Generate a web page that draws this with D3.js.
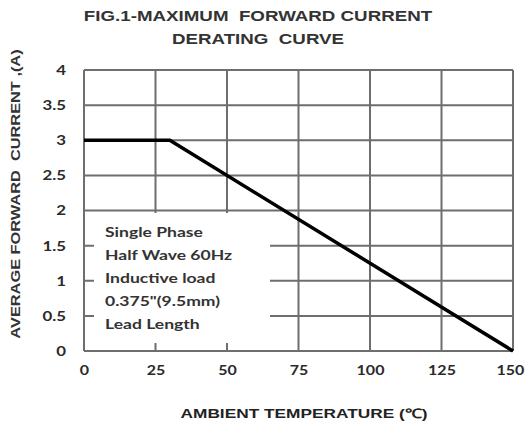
<!DOCTYPE html>
<html><head><meta charset="utf-8">
<script src="https://cdn.jsdelivr.net/npm/d3@7/dist/d3.min.js"></script>
<style>body{margin:0;background:#fff} text{white-space:pre}</style>
</head><body><svg id="c" width="526" height="426"></svg>
<script>
const xTicks = [0, 25, 50, 75, 100, 125, 150];
const yTicks = [0, 0.5, 1, 1.5, 2, 2.5, 3, 3.5, 4];
const yTickLabels = ["0", "0.5", "1", "1.5", "2", "2.5", "3", "3.5", "4"];
const temperature = [0, 30, 150];
const current = [3, 3, 0];
const titleLines = ["FIG.1-MAXIMUM  FORWARD CURRENT", "DERATING  CURVE"];
const xTitle = "AMBIENT TEMPERATURE (\u2103)";
const yTitle = "AVERAGE FORWARD  CURRENT ,(A)";
const noteLines = ["Single Phase", "Half Wave 60Hz", "Inductive load", "0.375\"(9.5mm)", "Lead Length"];

const svg = d3.select("#c");
const x = d3.scaleLinear().domain([0, 150]).range([84, 513]);
const y = d3.scaleLinear().domain([0, 4]).range([351, 70]);
const grid = "#6e6e6e";
const arial = "'Liberation Sans', Arial, sans-serif";
const cal = "Lato, 'Open Sans', sans-serif";

// grid
svg.append("g").selectAll("line").data(xTicks).join("line")
  .attr("x1", d => x(d)).attr("x2", d => x(d)).attr("y1", y(4)).attr("y2", y(0))
  .attr("stroke", grid).attr("stroke-width", 2);
svg.append("g").selectAll("line").data(yTicks).join("line")
  .attr("x1", x(0)).attr("x2", x(150)).attr("y1", d => y(d)).attr("y2", d => y(d))
  .attr("stroke", grid).attr("stroke-width", 2);

// tick labels via axes
const yAxis = svg.append("g").attr("transform", `translate(${x(0) - 18},0)`)
  .call(d3.axisLeft(y).tickValues(yTicks).tickFormat((d, i) => yTickLabels[i]).tickSize(0).tickPadding(0));
yAxis.select(".domain").remove();
yAxis.selectAll("text").attr("font-family", cal).attr("font-weight", "bold")
  .attr("font-size", 12.5).attr("fill", "#2a2a2a").attr("dy", "0.35em")
  .attr("transform", "scale(1.35,1)");

const xAxis = svg.append("g").attr("transform", `translate(0,${y(0) + 15})`)
  .call(d3.axisBottom(x).tickValues(xTicks).tickSize(0).tickPadding(0));
xAxis.select(".domain").remove();
xAxis.selectAll("text").attr("font-family", cal).attr("font-weight", "bold")
  .attr("font-size", 12.5).attr("fill", "#2a2a2a").attr("dy", "0.71em")
  .attr("transform", "scale(1.28,1)")
  .attr("x", d => d === 150 ? -2.5 : 0);

// legend box
svg.append("rect").attr("x", 94).attr("y", 213).attr("width", 176).attr("height", 130).attr("fill", "#fff");
svg.append("g").selectAll("text").data(noteLines).join("text")
  .attr("transform", (d, i) => `translate(105,${237 + i * 23}) scale(1.35,1)`)
  .attr("font-family", cal).attr("font-weight", "bold").attr("font-size", 13)
  .attr("fill", "#333").text(d => d);

// curve
svg.append("path").datum(temperature.map((t, i) => [t, current[i]]))
  .attr("d", d3.line().x(d => x(d[0])).y(d => y(d[1])))
  .attr("fill", "none").attr("stroke", "#000").attr("stroke-width", 3.5);

// titles
svg.append("g").selectAll("text").data(titleLines).join("text")
  .attr("transform", (d, i) => `translate(258,${21 + i * 23}) scale(1.25,1)`).attr("text-anchor", "middle")
  .attr("font-family", arial).attr("font-weight", "bold")
  .attr("font-size", 15).attr("fill", "#333").text(d => d);

svg.append("text").attr("transform", "translate(304,418) scale(1.33,1)").attr("text-anchor", "middle")
  .attr("font-family", arial).attr("font-weight", "bold")
  .attr("font-size", 13).attr("fill", "#222").text(xTitle);

svg.append("text").attr("transform", "translate(20,194) rotate(-90) scale(1.26,1)").attr("text-anchor", "middle")
  .attr("font-family", arial).attr("font-weight", "bold")
  .attr("font-size", 13).attr("fill", "#333").text(yTitle);
</script></body></html>
